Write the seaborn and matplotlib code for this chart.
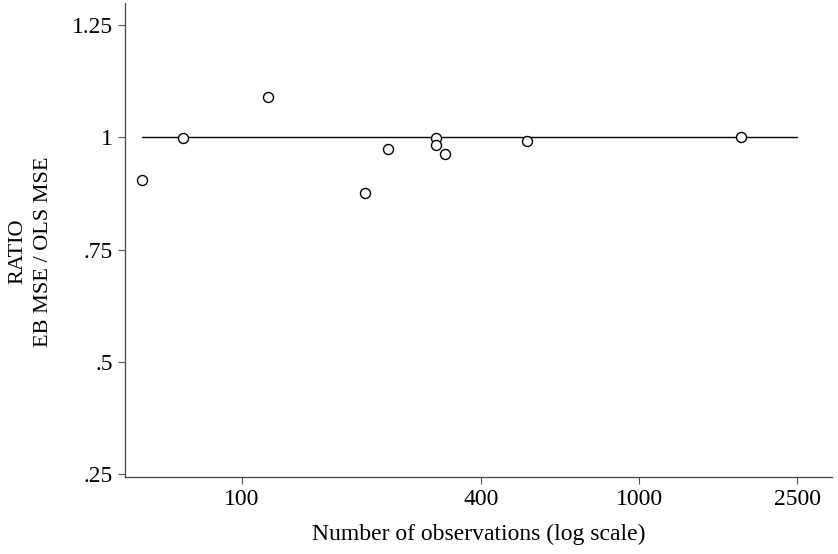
import numpy as np
import pandas as pd
import matplotlib
matplotlib.use("Agg")
import matplotlib.pyplot as plt
import seaborn as sns

# Data
n_obs = [56, 71, 116, 204, 233, 308, 308, 324, 522, 1806]
mse_ratio = [0.906, 0.998, 1.089, 0.877, 0.973, 0.998, 0.982, 0.964, 0.993, 1.0]
ref_line_x = [56, 2500]
ref_line_y = [1.0, 1.0]
x_ticks = [100, 400, 1000, 2500]
y_ticks = [0.25, 0.5, 0.75, 1.0, 1.25]
y_tick_labels = [".25", ".5", ".75", "1", "1.25"]

sns.set_theme(style="ticks")
plt.rcParams["font.family"] = ["Liberation Serif", "DejaVu Serif"]

df = pd.DataFrame({"n": n_obs, "ratio": mse_ratio})

fig = plt.figure(figsize=(8.38, 5.54), dpi=100)
ax = fig.add_axes([0.149, 0.139, 0.844, 0.856])

ax.plot(ref_line_x, ref_line_y, color="black", linewidth=1.0, zorder=1)
sns.scatterplot(
    data=df, x="n", y="ratio", ax=ax,
    marker="o", s=52, facecolor="white", edgecolor="black", linewidth=1.0,
    zorder=2,
)

ax.set_xscale("log")
ax.set_xlim(50.7, 3060)
ax.set_ylim(0.243, 1.30)
ax.set_xticks(x_ticks)
ax.set_xticklabels([str(t) for t in x_ticks])
ax.minorticks_off()
ax.set_yticks(y_ticks)
ax.set_yticklabels(y_tick_labels)

ax.tick_params(axis="both", labelsize=17, length=5, width=0.8, color="#555555",
               labelcolor="black", direction="out")
for side in ["top", "right"]:
    ax.spines[side].set_visible(False)
for side in ["left", "bottom"]:
    ax.spines[side].set_color("#444444")
    ax.spines[side].set_linewidth(0.9)

ax.set_xlabel("Number of observations (log scale)", fontsize=17, labelpad=10,
              color="black")
ax.set_ylabel("RATIO\nEB MSE / OLS MSE", fontsize=16, linespacing=1.45,
              color="black")
ax.yaxis.set_label_coords(-0.102, 0.475)

fig.savefig("out.png", dpi=100)
